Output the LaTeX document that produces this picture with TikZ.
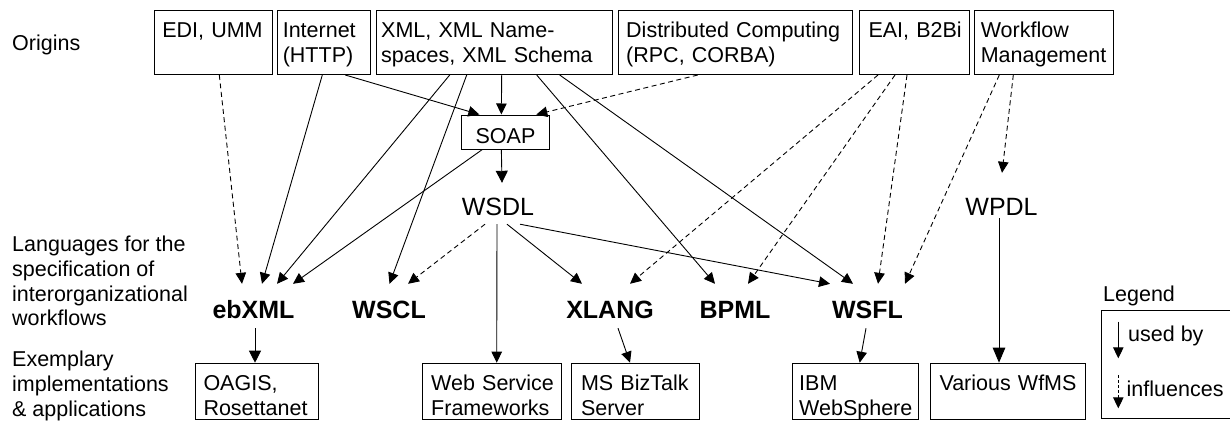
\documentclass[tikz,border=0pt]{standalone}
\usepackage{fontspec}
\setmainfont{Liberation Sans}
\usetikzlibrary{arrows.meta,calc}
\newcommand\fsN{\fontsize{21.5}{24.7}\selectfont}
\newcommand\fsB{\fontsize{25}{30}\selectfont}
\newcommand\TLx[1]{\begin{tabular}[t]{@{}l@{}}#1\end{tabular}}
\begin{document}
\begin{tikzpicture}[x=1pt,y=-1pt,
  box/.style={draw, line width=1pt, align=left, font=\fsN},
  topbox/.style={box, anchor=north west, inner ysep=0pt, text height=27pt, text depth=37pt},
  botbox/.style={box, anchor=north west, inner ysep=0pt, text height=27.3pt, text depth=29.3pt},
  lang/.style={font=\fsB\bfseries, inner sep=0pt, anchor=base, text height=34.3pt, text depth=9.7pt},
  big/.style={font=\fsB, inner sep=0pt, anchor=base},
  lbl/.style={font=\fsN, inner sep=0pt, anchor=base west, align=left},
  usedby/.style={-{Triangle[length=11pt,width=10.5pt]}, line width=0.9pt},
  bighead/.style={-{Triangle[length=12pt,width=12pt]}},
  influ/.style={usedby, dash pattern=on 5pt off 3.5pt}]
\useasboundingbox (0,0) rectangle (1230,421);

% row labels
\node[lbl] (origins) at (12,50) {Origins};
\node[lbl] (langlbl) at (12,251.7) {\TLx{Languages for the\\specification of\\interorganizational\\workflows}};
\node[lbl] (impllbl) at (12,366.7) {\TLx{Exemplary\\implementations\\\& applications}};

% origins
\node[topbox, inner xsep=7.5pt, text width=102.4pt] (edi) at (154.3,10) {\TLx{EDI, UMM}};
\node[topbox, inner xsep=5pt, text width=82.7pt] (inet) at (277.3,10) {\TLx{Internet\\(HTTP)}};
\node[topbox, inner xsep=5pt, text width=226.6pt] (xml) at (375.7,10) {\TLx{XML, XML Name-\\spaces, XML Schema}};
\node[topbox, inner xsep=8pt, text width=218.6pt] (dist) at (617.7,10) {\TLx{Distributed Computing\\(RPC, CORBA)}};
\node[topbox, inner xsep=9pt, text width=92pt] (eai) at (859,10) {\TLx{EAI, B2Bi}};
\node[topbox, inner xsep=6pt, text width=127pt] (wfm) at (974.3,10) {\TLx{Workflow\\Management}};

% middle
\node[draw, line width=1pt, font=\fsN, inner sep=0pt, anchor=base, text height=28pt, text depth=6pt, minimum width=87.3pt] (soap) at (505.5,143) {SOAP};
\node[big, text height=32pt, text depth=9pt] (wsdl) at (498,215) {WSDL};
\node[big, text height=42pt, text depth=3pt] (wpdl) at (1001.5,215) {WPDL};

% languages
\node[lang] (ebxml) at (253.5,318.3) {ebXML};
\node[lang] (wscl) at (389,318.3) {WSCL};
\node[lang] (xlang) at (610,318.3) {XLANG};
\node[lang] (bpml) at (735,318.3) {BPML};
\node[lang] (wsfl) at (867.5,318.3) {WSFL};

% implementations
\node[botbox, inner xsep=8pt, text width=107.3pt] (oagis) at (195,362.7) {\TLx{OAGIS,\\Rosettanet}};
\node[botbox, inner xsep=9pt, text width=121pt] (wsf) at (421.7,362.7) {\TLx{Web Service\\Frameworks}};
\node[botbox, inner xsep=9.5pt, text width=109pt] (ms) at (571,362.7) {\TLx{MS BizTalk\\Server}};
\node[botbox, inner xsep=7pt, text width=112.6pt] (ibm) at (791.7,362.7) {\TLx{IBM\\WebSphere}};
\node[botbox, inner xsep=9pt, text width=137pt] (various) at (930,362.7) {\TLx{Various WfMS}};

% used by
\draw[usedby] ($(inet.south west)+(68,0)$) -- ($(soap.north west)+(18,0)$);
\draw[usedby] ($(inet.south west)+(45,0)$) -- ($(ebxml.north)+(8.5,0)$);
\draw[usedby] ($(xml.south west)+(126,0)$) -- ($(soap.north west)+(40,0)$);
\draw[usedby] ($(xml.south west)+(74,0)$) -- ($(ebxml.north)+(23.5,0)$);
\draw[usedby] ($(xml.south west)+(91,0)$) -- ($(wscl.north)+(0.5,0)$);
\draw[usedby] ($(xml.south west)+(161,0)$) -- ($(bpml.north)+(-20,0)$);
\draw[usedby] ($(xml.south west)+(184,0)$) -- ($(wsfl.north)+(-14.5,0)$);
\draw[usedby, bighead] ($(soap.south west)+(40,0)$) -- ($(wsdl.north)+(4,0)$);
\draw[usedby] ($(soap.south west)+(21,0)$) -- ($(ebxml.north)+(39.5,0)$);
\draw[usedby] ($(wsdl.south)+(-1,0)$) -- ($(wsf.north west)+(75,0)$);
\draw[usedby] ($(wsdl.south)+(9,0)$) -- ($(xlang.north)+(-28,0)$);
\draw[usedby] ($(wsdl.south)+(22,0)$) -- ($(wsfl.north)+(-37.5,0)$);
\draw[usedby, bighead] ($(ebxml.south)+(1.5,0)$) -- ($(oagis.north west)+(60,0)$);
\draw[usedby] ($(xlang.south)+(8,0)$) -- ($(ms.north west)+(59,0)$);
\draw[usedby] ($(wsfl.south)+(-1.5,0)$) -- ($(ibm.north west)+(68,0)$);
\draw[usedby, -{Triangle[length=15pt,width=12.5pt]}] ($(wpdl.south)+(-2.5,0)$) -- ($(various.north west)+(69,0)$);

% influences
\draw[influ] ($(edi.south west)+(65,0)$) -- ($(ebxml.north)+(-11.5,0)$);
\draw[influ] ($(dist.south west)+(80,0)$) -- ($(soap.north west)+(75,0)$);
\draw[influ] ($(wsdl.south)+(-13,0)$) -- ($(wscl.north)+(19,0)$);
\draw[influ] ($(eai.south west)+(19,0)$) -- ($(xlang.north)+(20,0)$);
\draw[influ] ($(eai.south west)+(36,0)$) -- ($(bpml.north)+(13,0)$);
\draw[influ] ($(eai.south west)+(48,0)$) -- ($(wsfl.north)+(10.5,0)$);
\draw[influ] ($(wfm.south west)+(25,0)$) -- ($(wsfl.north)+(37.5,0)$);
\draw[influ] ($(wfm.south west)+(39,0)$) -- ($(wpdl.north)+(0.5,0)$);

% legend
\node[lbl] (legend) at (1103,301) {Legend};
\draw[line width=1pt] (1230,310.7) -- (1101.7,310.7) -- (1101.7,418.3) -- (1230,418.3);
\coordinate (lgA) at (1118.3,321.7);
\coordinate (lgB) at (1118.3,358.3);
\coordinate (lgC) at (1118.3,375);
\coordinate (lgD) at (1118.3,408.3);
\draw[usedby] (lgA) -- (lgB);
\draw[influ, dash pattern=on 3pt off 2pt] (lgC) -- (lgD);
\node[lbl] (usedbylbl) at (1128,341.7) {used by};
\node[lbl] (influlbl) at (1126.5,396.7) {influences};
\end{tikzpicture}
\end{document}
